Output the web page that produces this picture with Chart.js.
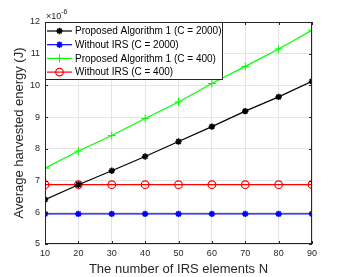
<!DOCTYPE html>
<html>
<head>
<meta charset="utf-8">
<script src="https://cdn.jsdelivr.net/npm/chart.js@4"></script>
<style>
  html, body { margin: 0; padding: 0; background: #fff; }
  #wrap { width: 346px; height: 277px; }
</style>
</head>
<body>
<div id="wrap"><canvas id="chart" width="346" height="277"></canvas></div>
<script>
// Данные (в единицах 10^-6 Дж)
const irsElements = [10, 20, 30, 40, 50, 60, 70, 80, 90];
const proposedC2000 = [6.40, 6.87, 7.31, 7.76, 8.23, 8.70, 9.19, 9.64, 10.13];
const withoutIrsC2000 = [5.95, 5.95, 5.95, 5.95, 5.95, 5.95, 5.95, 5.95, 5.95];
const proposedC400 = [7.39, 7.93, 8.42, 8.96, 9.48, 10.06, 10.60, 11.15, 11.74];
const withoutIrsC400 = [6.87, 6.87, 6.87, 6.87, 6.87, 6.87, 6.87, 6.87, 6.87];
const seriesNames = [
  'Proposed Algorithm 1 (C = 2000)',
  'Without IRS (C = 2000)',
  'Proposed Algorithm 1 (C = 400)',
  'Without IRS (C = 400)',
];
const xTicks = [10, 20, 30, 40, 50, 60, 70, 80, 90];
const yTicks = [5, 6, 7, 8, 9, 10, 11, 12];

const FONT = '"Liberation Sans", Arial, sans-serif';
const AXIS_COLOR = '#262626';

const toPoints = (arr) => arr.map((v, i) => ({ x: irsElements[i], y: v }));

// Рамка, внутренние засечки и множитель ×10^-6
const matlabBox = {
  id: 'matlabBox',
  afterDatasetsDraw(chart) {
    const { ctx, chartArea: { left, top, right, bottom }, scales: { x, y } } = chart;
    ctx.save();
    ctx.strokeStyle = AXIS_COLOR;
    ctx.lineWidth = 1;
    ctx.strokeRect(left + 0.5, top + 0.5, right - left - 1, bottom - top - 1);
    ctx.beginPath();
    xTicks.forEach((t) => {
      const px = Math.round(x.getPixelForValue(t)) + 0.5;
      ctx.moveTo(px, bottom); ctx.lineTo(px, bottom - 3);
      ctx.moveTo(px, top); ctx.lineTo(px, top + 3);
    });
    yTicks.forEach((t) => {
      const py = Math.round(y.getPixelForValue(t)) + 0.5;
      ctx.moveTo(left, py); ctx.lineTo(left + 3, py);
      ctx.moveTo(right, py); ctx.lineTo(right - 3, py);
    });
    ctx.stroke();

    // множитель оси Y
    ctx.fillStyle = AXIS_COLOR;
    ctx.textBaseline = 'alphabetic';
    ctx.font = '9px ' + FONT;
    ctx.fillText('\u00d710', left + 1, top - 3);
    const w = ctx.measureText('\u00d710').width;
    ctx.font = '7px ' + FONT;
    ctx.fillText('-6', left + 1 + w, top - 8);
    ctx.restore();
  },
};

// Легенда внутри области графика (левый верхний угол)
const insideLegend = {
  id: 'insideLegend',
  afterDraw(chart) {
    const { ctx, chartArea: { left, top } } = chart;
    const rowH = 13.7;
    const boxW = 177;
    const boxH = 57;
    ctx.save();
    ctx.fillStyle = '#fff';
    ctx.fillRect(left, top, boxW, boxH);
    ctx.strokeStyle = AXIS_COLOR;
    ctx.lineWidth = 1;
    ctx.strokeRect(left + 0.5, top + 0.5, boxW, boxH);
    ctx.textBaseline = 'middle';
    chart.data.datasets.forEach((ds, i) => {
      const cy = top + 9 + i * rowH;
      ctx.strokeStyle = ds.borderColor;
      ctx.lineWidth = ds.borderWidth;
      ctx.beginPath();
      ctx.moveTo(left + 2, cy);
      ctx.lineTo(left + 27, cy);
      ctx.stroke();
      ctx.fillStyle = ds.pointBackgroundColor;
      ctx.lineWidth = ds.pointBorderWidth;
      Chart.helpers.drawPoint(ctx, {
        pointStyle: ds.pointStyle,
        radius: ds.pointRadius,
        borderWidth: ds.pointBorderWidth,
        rotation: 0,
      }, left + 14.5, cy);
      ctx.fillStyle = '#000';
      ctx.font = '10px ' + FONT;
      ctx.fillText(ds.label, left + 30, cy + 0.5);
    });
    ctx.restore();
  },
};

const makeSet = (label, values, color, style, radius, pbw) => ({
  label,
  data: toPoints(values),
  borderColor: color,
  backgroundColor: color,
  borderWidth: 1.2,
  pointStyle: style,
  pointRadius: radius,
  pointHoverRadius: radius,
  pointBorderWidth: pbw,
  pointBorderColor: color,
  pointBackgroundColor: style === 'circle' ? 'rgba(0,0,0,0)' : color,
  showLine: true,
  tension: 0,
});

const chart = new Chart(document.getElementById('chart'), {
  type: 'scatter',
  data: {
    datasets: [
      makeSet(seriesNames[0], proposedC2000, '#000000', 'star', 3.2, 1.6),
      makeSet(seriesNames[1], withoutIrsC2000, '#0000ff', 'star', 3.2, 1.6),
      makeSet(seriesNames[2], proposedC400, '#00ff00', 'cross', 4, 1),
      makeSet(seriesNames[3], withoutIrsC400, '#ff0000', 'circle', 3.8, 1.2),
    ],
  },
  options: {
    responsive: false,
    animation: false,
    layout: { padding: { top: 22, right: 34, left: 0, bottom: 0 } },
    plugins: {
      legend: { display: false },
      tooltip: { enabled: false },
    },
    scales: {
      x: {
        type: 'linear',
        min: 10,
        max: 90,
        afterBuildTicks: (s) => { s.ticks = xTicks.map((v) => ({ value: v })); },
        afterFit: (s) => { s.height = 33; },
        grid: { color: '#e5e5e5', drawTicks: false, lineWidth: 1 },
        border: { display: false },
        ticks: { color: AXIS_COLOR, font: { family: FONT, size: 9 }, padding: 4, maxRotation: 0 },
        title: {
          display: true,
          text: 'The number of IRS elements N',
          color: AXIS_COLOR,
          font: { family: FONT, size: 13 },
          padding: { top: 0, bottom: 0 },
        },
      },
      y: {
        min: 5,
        max: 12,
        afterBuildTicks: (s) => { s.ticks = yTicks.map((v) => ({ value: v })); },
        afterFit: (s) => { s.width = 45; },
        grid: { color: '#e5e5e5', drawTicks: false, lineWidth: 1 },
        border: { display: false },
        ticks: { color: AXIS_COLOR, font: { family: FONT, size: 9 }, padding: 5 },
        title: {
          display: true,
          text: 'Average harvested energy (J)',
          color: AXIS_COLOR,
          font: { family: FONT, size: 13 },
          padding: { top: 12, bottom: 0 },
        },
      },
    },
  },
  plugins: [matlabBox, insideLegend],
});
</script>
</body>
</html>
